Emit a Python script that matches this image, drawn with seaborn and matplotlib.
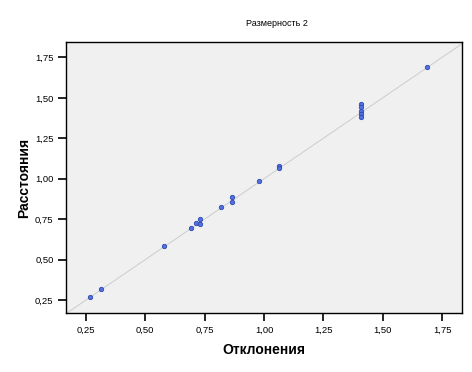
import matplotlib
matplotlib.use("Agg")
import matplotlib.pyplot as plt
import seaborn as sns
import pandas as pd
from matplotlib.ticker import FuncFormatter

deviations = [0.266, 0.315, 0.577, 0.693, 0.715, 0.729, 0.729, 0.819, 0.865, 0.865,
              0.980, 1.064, 1.064, 1.407, 1.407, 1.407, 1.407, 1.407, 1.686]
distances = [0.270, 0.318, 0.586, 0.697, 0.725, 0.751, 0.720, 0.824, 0.886, 0.855,
             0.988, 1.081, 1.065, 1.460, 1.445, 1.420, 1.400, 1.383, 1.690]
ticks = [0.25, 0.50, 0.75, 1.00, 1.25, 1.50, 1.75]

df = pd.DataFrame({"Отклонения": deviations, "Расстояния": distances})

sns.set_style("ticks")
plt.rcParams.update({
    'font.family': ['Liberation Sans', 'DejaVu Sans'],
    'text.color': 'black', 'axes.labelcolor': 'black',
    'xtick.color': 'black', 'ytick.color': 'black',
})

fig = plt.figure(figsize=(4.72, 3.72), dpi=100)
ax = fig.add_axes([66/472, 1-313/372, (462-66)/472, (313-42)/372])
ax.set_facecolor("#f0f0f0")

xlim = (0.166, 1.834)
ylim = (0.170, 1.845)
ax.plot([0, 2], [0, 2], color="#cccccc", lw=0.7, zorder=1)
sns.scatterplot(data=df, x="Отклонения", y="Расстояния", ax=ax, s=10,
                color="#5272e0", edgecolor="#2f48b0", linewidth=0.6, zorder=3)
ax.set_xlim(*xlim)
ax.set_ylim(*ylim)
ax.set_xticks(ticks)
ax.set_yticks(ticks)
fmt = FuncFormatter(lambda v, p: f"{v:.2f}".replace(".", ","))
ax.xaxis.set_major_formatter(fmt)
ax.yaxis.set_major_formatter(fmt)
ax.tick_params(axis="both", which="major", bottom=True, left=True, direction="out",
               length=6, width=1.2, labelsize=6.8, pad=3, color="black",
               labelcolor="black")
for s in ax.spines.values():
    s.set_visible(True)
    s.set_color("black")
    s.set_linewidth(1.0)

ax.set_xlabel("Отклонения", fontsize=10, fontweight="bold", labelpad=6)
ax.set_ylabel("Расстояния", fontsize=10, fontweight="bold", labelpad=3)
fig.text(277/472, 1-23/372, "Размерность 2", fontsize=6.5, ha="center", va="center")

fig.savefig("out.png", dpi=100, facecolor="white")
